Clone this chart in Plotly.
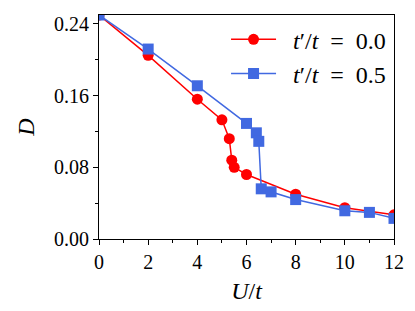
import plotly.graph_objects as go

u_red = [0, 2, 4, 5.0, 5.3, 5.4, 5.5, 6.0, 8, 10, 12]
d_red = [0.250, 0.205, 0.156, 0.133, 0.112, 0.088, 0.080, 0.072, 0.050, 0.035, 0.027]
u_blue = [0, 2, 4, 6.0, 6.4, 6.5, 6.6, 7.0, 8, 10, 11, 12]
d_blue = [0.250, 0.212, 0.171, 0.129, 0.1185, 0.109, 0.056, 0.0526, 0.044, 0.0315, 0.0297, 0.023]
names = ["\u00a0\u00a0<i>t</i>\u2032/<i>t</i>\u00a0\u00a0=\u00a0\u00a00.0",
         "\u00a0\u00a0<i>t</i>\u2032/<i>t</i>\u00a0\u00a0=\u00a0\u00a00.5"]
x_ticks = [0, 2, 4, 6, 8, 10, 12]
y_ticks = [0.00, 0.08, 0.16, 0.24]

font = "Liberation Serif"

fig = go.Figure()
fig.add_trace(go.Scatter(x=u_red, y=d_red, mode="lines+markers", name=names[0],
                         line=dict(color="#ff0000", width=1.5),
                         marker=dict(symbol="circle", size=11, color="#ff0000")))
fig.add_trace(go.Scatter(x=u_blue, y=d_blue, mode="lines+markers", name=names[1],
                         line=dict(color="#4169e1", width=1.5),
                         marker=dict(symbol="square", size=11, color="#4169e1")))

axis_common = dict(showline=True, linecolor="black", linewidth=1, mirror=True,
                   ticks="outside", ticklen=5, tickwidth=1, tickcolor="black",
                   showgrid=False, zeroline=False,
                   tickfont=dict(family=font, size=20, color="black"))

fig.update_layout(
    width=415, height=311,
    margin=dict(l=99, r=21, t=15, b=72),
    paper_bgcolor="white", plot_bgcolor="white",
    showlegend=True,
    legend=dict(x=0.99, y=0.99, xanchor="right", yanchor="top",
                bgcolor="rgba(255,255,255,0)", font=dict(family=font, size=24, color="black"),
                tracegroupgap=0, itemwidth=45),
    xaxis=dict(range=[0, 12], tickvals=x_ticks,
               title=dict(text="<i>U</i>/<i>t</i>", font=dict(family=font, size=24, color="black"), standoff=10),
               minor=dict(dtick=1, ticks="outside", ticklen=3, tickcolor="black"),
               **axis_common),
    yaxis=dict(range=[0, 0.25], tickvals=y_ticks, tickformat=".2f",
               title=dict(text="<i>D</i>", font=dict(family=font, size=24, color="black"), standoff=12),
               minor=dict(tickvals=[0.04, 0.12, 0.20], ticks="outside", ticklen=3, tickcolor="black"),
               **axis_common),
)

fig.write_html("out.html", config={"displayModeBar": False},
               post_script="document.body.style.margin='0';document.body.style.overflow='hidden';")
